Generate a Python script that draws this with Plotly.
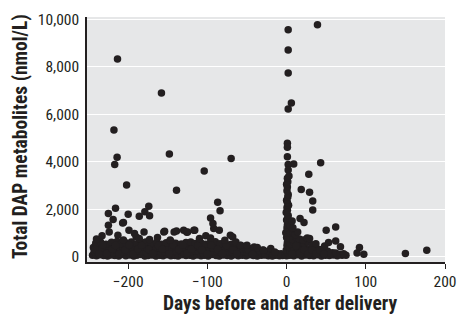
import plotly.graph_objects as go

# ---- data (days relative to delivery, total DAP metabolites nmol/L) ----
pre_a_days = [-245, -240, -236, -231, -226, -222, -217, -212, -208, -203,
              -198, -193, -189, -184, -179, -175, -170, -165, -160, -156,
              -151, -146, -141, -137, -132, -127, -122, -118, -113, -108,
              -104, -99, -94, -89, -85, -80, -75, -70, -66, -61,
              -56, -51, -47, -42, -37, -32, -28, -23, -18, -14,
              -9, -5]
pre_a_dap = [60, 35, 80, 45, 20, 70, 50, 30, 90, 40,
             65, 25, 55, 85, 30, 45, 70, 20, 60, 40,
             75, 35, 50, 25, 80, 45, 60, 30, 70, 40,
             55, 20, 85, 45, 30, 65, 50, 25, 75, 40,
             60, 35, 80, 45, 30, 55, 70, 40, 25, 60,
             35, 50]

pre_b_days = [-243, -238, -233, -229, -224, -219, -215, -210, -205, -201,
              -196, -191, -187, -182, -177, -172, -168, -163, -158, -154,
              -149, -144, -139, -135, -130, -125, -121, -116, -111, -106,
              -102, -97, -92, -88, -83, -78, -73, -69, -64, -59,
              -54, -50, -45, -40, -35, -31, -26, -21, -16, -12,
              -7]
pre_b_dap = [210, 170, 250, 190, 230, 160, 270, 200, 180, 240,
             150, 220, 260, 190, 170, 230, 210, 250, 160, 200,
             240, 180, 220, 260, 170, 210, 190, 250, 230, 160,
             200, 240, 180, 220, 170, 260, 200, 190, 230, 150,
             210, 180, 200, 160, 190, 150, 170, 140, 160, 130,
             120]

pre_c_days = [-244, -239, -234, -228, -223, -218, -213, -207, -202, -197,
              -192, -186, -181, -176, -171, -165, -160, -155, -150, -145,
              -140, -134, -129, -124, -119, -114, -109, -103, -98, -93,
              -88, -82, -77, -72, -67, -62, -57, -51, -46, -41,
              -36, -30]
pre_c_dap = [380, 420, 350, 440, 390, 360, 430, 400, 370, 450,
             340, 410, 390, 360, 430, 380, 350, 420, 400, 370,
             440, 390, 360, 410, 380, 430, 350, 400, 420, 370,
             390, 440, 360, 400, 380, 350, 340, 320, 330, 300,
             290, 280]

pre_d_days = [-241, -235, -228, -221, -214, -209, -203, -196, -189, -183,
              -178, -171, -164, -158, -152, -146, -140, -133, -127, -121,
              -115, -108, -102, -96, -90, -84, -78, -71, -65, -58,
              -52]
pre_d_dap = [560, 620, 520, 600, 640, 540, 580, 610, 530, 570,
             620, 550, 600, 520, 580, 640, 560, 530, 590, 610,
             550, 570, 520, 600, 630, 540, 580, 510, 550, 470,
             440]

pre_e_days = [-242, -237, -232, -227, -220, -216, -211, -204, -199, -194,
              -188, -183, -174, -169, -162, -157, -148, -143, -136, -131,
              -126, -120, -112, -107, -100, -95, -87, -81, -76, -68,
              -63, -55, -48, -43, -38, -33, -27, -22, -17, -11]
pre_e_dap = [300, 120, 480, 130, 310, 470, 120, 290, 490, 110,
             320, 480, 300, 130, 470, 310, 120, 490, 300, 480,
             130, 310, 470, 290, 110, 480, 300, 130, 470, 290,
             120, 420, 270, 110, 350, 220, 90, 240, 100, 80]

pre_fringe_days = [-240, -224, -213, -199, -190, -180, -192, -163, -155, -154,
                   -142, -139, -130, -125, -117, -102, -92, -85, -71, -68,
                   -64, -58, -50, -41, -37, -29, -20, -15, -173, -147,
                   -110, -96, -233, -206, -186, -78]
pre_fringe_dap = [745, 1040, 900, 1112, 830, 1040, 972, 800, 1040, 1070,
                  1040, 1082, 1112, 1040, 1112, 880, 1180, 1112, 900, 830,
                  620, 480, 480, 406, 380, 266, 338, 195, 720, 700,
                  760, 780, 880, 700, 760, 690]

pre_high_days = [-213.5, -158, -218, -214, -217, -148, -70, -104, -202, -139,
                 -216, -225, -219, -200, -206, -174, -179, -186, -173, -87,
                 -84, -96, -93, -207, -225, -116, -126]
pre_high_dap = [8330, 6900, 5340, 4190, 3880, 4330, 4130, 3610, 3020, 2800,
                2040, 1820, 1560, 1780, 1440, 2120, 1890, 1700, 1720, 2290,
                1930, 1630, 1390, 1420, 1320, 1112, 1027]

post_col_days = [0, 1.5, -0.5, 2, 0.5, 1, 2.5, 0, 1.5, -1,
                 2, 0.5, 1, 3, 0, 1.5, 2, -0.5, 1, 0.5,
                 2.5, 1, 0, 1.5, 2, 0.5, 1, 0, 1.5, 1]
post_col_dap = [40, 160, 270, 380, 470, 590, 680, 800, 890, 1010,
                1120, 1210, 1330, 1420, 1540, 1650, 1730, 1860, 1950, 2070,
                2160, 2280, 2380, 2510, 2620, 2780, 2930, 3050, 3150, 3300]

post_blob_days = [4, 9, 14, 19, 24, 29, 34, 39, 44, 49, 54, 59, 64, 70, 75,
                  5, 10, 15, 20, 25, 30, 35, 40, 45, 52, 58,
                  4, 9, 13, 18, 23, 28, 33, 38, 44, 48,
                  5, 9, 13, 17, 22, 27, 32, 37,
                  4, 8, 12, 16, 21, 26, 29,
                  5, 8, 11, 14,
                  5, 8, 7,
                  7, 12, 17, 22, 27, 32, 37, 42, 47, 56, 62, 67, 72]
post_blob_dap = [60, 40, 80, 30, 70, 50, 40, 80, 30, 60, 45, 70, 35, 55, 60,
                 210, 180, 240, 190, 220, 170, 250, 200, 180, 230, 160,
                 380, 330, 400, 350, 370, 320, 390, 340, 300, 450,
                 540, 600, 520, 580, 560, 620, 500, 540,
                 760, 720, 800, 740, 700, 780, 760,
                 980, 1050, 920, 1040,
                 1300, 1220, 1500,
                 120, 460, 130, 290, 110, 280, 120, 270, 110, 130, 150, 90, 120]

post_high_days = [2, 39, 2, 2, 6, 2, 1, 1, 1, 9,
                  2, 2, 43, 28, 18.5, 29, 33, 33, 17, 22,
                  50, 62, 53, 62, 68, 92, 89, 97.5, 150, 177,
                  3]
post_high_dap = [9560, 9770, 8710, 7740, 6470, 6220, 4780, 4610, 4210, 3900,
                 3880, 3650, 3960, 3470, 2830, 2710, 2340, 1960, 1610, 1440,
                 1110, 1250, 590, 660, 410, 380, 150, 100, 130, 270,
                 3400]

x_ticks = [-200, -100, 0, 100, 200]
y_ticks = [0, 2000, 4000, 6000, 8000, 10000]
x_title = "Days before and after delivery"
y_title = "Total DAP metabolites (nmol/L)"

groups = [
    (pre_a_days, pre_a_dap), (pre_b_days, pre_b_dap), (pre_c_days, pre_c_dap),
    (pre_d_days, pre_d_dap), (pre_e_days, pre_e_dap),
    (pre_fringe_days, pre_fringe_dap),
    (pre_high_days, pre_high_dap), (post_col_days, post_col_dap),
    (post_blob_days, post_blob_dap), (post_high_days, post_high_dap),
]
all_x, all_y = [], []
for gx, gy in groups:
    all_x.extend(gx)
    all_y.extend(gy)

FONT = "Liberation Sans Narrow, Arial Narrow, Roboto Condensed, Liberation Sans, sans-serif"
INK = "#231f20"

fig = go.Figure(go.Scatter(
    x=all_x, y=all_y, mode="markers",
    marker=dict(size=7.5, color=INK, line=dict(width=0)),
    hoverinfo="skip", showlegend=False,
))

# page body adds an 8px offset, so the figure is 8px smaller than the window
fig.update_layout(
    width=458, height=309,
    margin=dict(l=79, r=21, t=9, b=55),
    paper_bgcolor="white", plot_bgcolor="#e6e7e8",
    font=dict(family=FONT, size=15.5, color=INK),
    annotations=[
        dict(text="<b>" + x_title + "</b>", xref="paper", yref="paper",
             x=0.538, y=-0.168, xanchor="center", yanchor="middle",
             showarrow=False, font=dict(family=FONT, size=19.5, color=INK)),
        dict(text="<b>" + y_title + "</b>", xref="paper", yref="paper",
             x=-0.187, y=0.51, xanchor="center", yanchor="middle",
             textangle=-90, showarrow=False,
             font=dict(family=FONT, size=19.5, color=INK)),
    ],
)
fig.update_xaxes(
    range=[-252, 200], tickvals=x_ticks, ticks="outside", ticklen=5,
    tickwidth=1.2, tickcolor=INK, automargin=False,
    showgrid=False, zeroline=False, showline=True, linecolor=INK,
    linewidth=1.5,
)
fig.update_yaxes(
    range=[-228, 10100], tickvals=y_ticks, tickformat=",d", ticks="",
    ticklabelstandoff=3,
    showgrid=True, gridcolor="white", gridwidth=1.2, automargin=False,
    zeroline=True, zerolinecolor="white", zerolinewidth=1.2,
    showline=True, linecolor=INK, linewidth=1.5,
)

fig.write_html("out.html")
